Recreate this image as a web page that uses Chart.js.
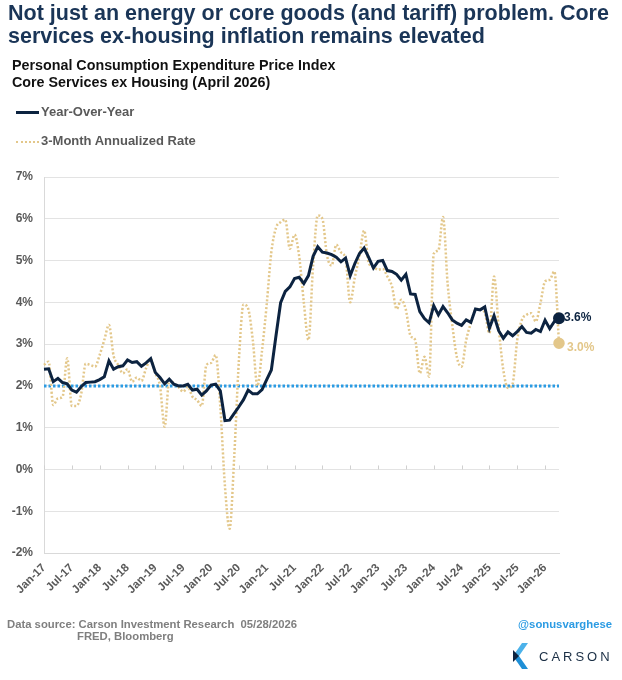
<!DOCTYPE html>
<html>
<head>
<meta charset="utf-8">
<script src="https://cdn.jsdelivr.net/npm/chart.js@4.4.1/dist/chart.umd.min.js"></script>
<style>
  body { margin: 0; background: #fff; font-family: "Liberation Sans", Arial, sans-serif; }
  #wrap { position: relative; width: 622px; height: 680px; overflow: hidden; }
  #chart { position: absolute; left: 0; top: 0; }
  .title { position: absolute; left: 8px; top: 2px; font-size: 21.5px; font-weight: bold; color: #1a3557; line-height: 22.5px; white-space: nowrap; }
  .sub { position: absolute; left: 12px; top: 57px; font-size: 14.3px; font-weight: bold; color: #111; line-height: 17px; }
  .leg { position: absolute; left: 16px; font-size: 13px; font-weight: bold; color: #595959; height: 16px; line-height: 16px; }
  .leg span.sw { display: inline-block; width: 23px; height: 0; vertical-align: middle; margin-right: 2px; }
  .foot { position: absolute; font-size: 11.3px; font-weight: bold; color: #7f7f7f; line-height: 13px; }
  .handle { position: absolute; right: 10px; top: 618px; font-size: 11.3px; font-weight: bold; color: #2b9be3; }
  .brand { position: absolute; left: 539px; top: 649px; font-size: 13px; color: #1a2e44; letter-spacing: 3px; }
</style>
</head>
<body>
<div id="wrap">
  <canvas id="chart" width="622" height="680"></canvas>
  <div class="title">Not just an energy or core goods (and tariff) problem. Core<br>services ex-housing inflation remains elevated</div>
  <div class="sub">Personal Consumption Expenditure Price Index<br>Core Services ex Housing (April 2026)</div>
  <div class="leg" style="top:104px"><span class="sw" style="border-top:3px solid #0c2340"></span>Year-Over-Year</div>
  <div class="leg" style="top:133px"><span class="sw" style="border-top:2px dotted #e3c78a"></span>3-Month Annualized Rate</div>
  <div class="foot" style="left:7px; top:618px">Data source: Carson Investment Research&nbsp; 05/28/2026</div>
  <div class="foot" style="left:77px; top:630px">FRED, Bloomberg</div>
  <div class="handle">@sonusvarghese</div>
  <svg style="position:absolute; left:510px; top:640px" width="22" height="32">
    <polygon points="12,3 18,3 9,16 3,16" fill="#4cb2ea"/>
    <polygon points="3,16 9,16 18,29 12,29" fill="#1f8fd6"/>
    <polygon points="3,10 9,16 3,22" fill="#0c2340"/>
  </svg>
  <div class="brand">CARSON</div>
</div>
<script>
// months Jan-17 .. Apr-26
const years = [17, 18, 19, 20, 21, 22, 23, 24, 25, 26];
const monthNames = ['Jan', 'Feb', 'Mar', 'Apr', 'May', 'Jun', 'Jul', 'Aug', 'Sep', 'Oct', 'Nov', 'Dec'];
const lastMonth = 4; // April 2026

const categories = [];
years.forEach(y => {
    monthNames.forEach((m, k) => {
        if (y === 26 && k >= lastMonth) return;
        categories.push(m + '-' + y);
    });
});

// tick labels shown on the x axis (every six months)
const tickLabels = ['Jan-17', 'Jul-17', 'Jan-18', 'Jul-18', 'Jan-19', 'Jul-19', 'Jan-20', 'Jul-20', 'Jan-21',
    'Jul-21', 'Jan-22', 'Jul-22', 'Jan-23', 'Jul-23', 'Jan-24', 'Jul-24', 'Jan-25', 'Jul-25', 'Jan-26'];

// Year-over-year, %
const yoy = [
    2.40, 2.41, 2.10, 2.18, 2.08, 2.05, 1.90, 1.85, 1.98, 2.08, 2.09, 2.10,
    2.15, 2.22, 2.60, 2.40, 2.46, 2.48, 2.62, 2.56, 2.58, 2.47, 2.55, 2.65,
    2.32, 2.20, 2.05, 2.16, 2.04, 2.00, 2.00, 2.04, 1.90, 1.92, 1.78, 1.88,
    2.02, 2.04, 1.88, 1.17, 1.18, 1.34, 1.50, 1.67, 1.90, 1.81, 1.81, 1.91,
    2.15, 2.38, 3.20, 3.99, 4.26, 4.37, 4.57, 4.60, 4.45, 4.64, 5.10, 5.33,
    5.20, 5.18, 5.14, 5.08, 4.97, 5.06, 4.64, 4.93, 5.17, 5.30, 5.07, 4.82,
    4.98, 5.00, 4.76, 4.74, 4.67, 4.53, 4.67, 4.20, 4.19, 3.78, 3.61, 3.51,
    3.92, 3.70, 3.90, 3.75, 3.58, 3.50, 3.45, 3.58, 3.52, 3.84, 3.82, 3.89,
    3.38, 3.68, 3.32, 3.14, 3.29, 3.20, 3.30, 3.42, 3.28, 3.26, 3.35, 3.30,
    3.57, 3.37, 3.54, 3.62
];

// 3-month annualized rate, %
const threeMonth = [
    2.50, 2.58, 1.54, 1.70, 1.74, 2.66, 1.52, 1.52, 1.80, 2.53, 2.50, 2.46,
    2.74, 3.10, 3.46, 2.72, 2.50, 2.30, 2.40, 2.10, 2.20, 2.12, 2.42, 2.64,
    2.30, 2.00, 1.02, 2.14, 2.06, 1.97, 1.86, 1.98, 1.74, 1.66, 1.52, 2.50,
    2.55, 2.74, 1.50, -0.40, -1.42, 0.30, 2.60, 3.95, 3.85, 3.10, 2.00, 2.85,
    3.95, 5.20, 5.78, 5.92, 5.98, 5.28, 5.62, 5.10, 4.00, 3.10, 4.88, 6.08,
    6.00, 5.12, 4.88, 5.38, 5.20, 5.04, 4.00, 4.60, 5.12, 5.72, 4.94, 4.85,
    4.78, 4.80, 4.62, 4.38, 3.84, 4.06, 3.82, 3.20, 3.10, 2.30, 2.70, 2.22,
    5.16, 5.24, 6.04, 4.44, 3.46, 2.68, 2.46, 3.10, 3.50, 3.82, 3.84, 3.75,
    3.26, 4.62, 3.40, 2.38, 1.95, 2.05, 3.10, 3.58, 3.70, 3.74, 3.54, 3.98,
    4.50, 4.54, 4.74, 3.02
];

// Fed 2% target
const target = 2;

// y axis range, %
const yMin = -2;
const yMax = 7;

const navy = '#0c2340';
const gold = '#e3c78a';
const blue = '#2b9be3';
const grey = '#595959';
const lastIdx = categories.length - 1;

// little tick marks sitting on the 0% line + value labels at the right end
const extras = {
    id: 'extras',
    beforeDatasetsDraw(chart) {
        const c = chart.ctx, x = chart.scales.x, y = chart.scales.y;
        const y0 = y.getPixelForValue(0);
        c.save();
        c.strokeStyle = '#d0d0d0';
        c.lineWidth = 1;
        categories.forEach((lab, i) => {
            if (tickLabels.indexOf(lab) < 0) return;
            const px = Math.round(x.getPixelForValue(i)) + 0.5;
            c.beginPath();
            c.moveTo(px, y0 - 4);
            c.lineTo(px, y0);
            c.stroke();
        });
        c.restore();
    },
    afterDatasetsDraw(chart) {
        const c = chart.ctx;
        c.save();
        c.font = 'bold 12px "Liberation Sans", Arial, sans-serif';
        c.textBaseline = 'middle';
        const p0 = chart.getDatasetMeta(0).data[lastIdx];
        c.fillStyle = navy;
        c.fillText(yoy[lastIdx].toFixed(1) + '%', p0.x + 5, p0.y - 1);
        const p1 = chart.getDatasetMeta(1).data[lastIdx];
        c.fillStyle = gold;
        c.fillText(threeMonth[lastIdx].toFixed(1) + '%', p1.x + 8, p1.y + 4);
        c.restore();
    }
};

new Chart(document.getElementById('chart').getContext('2d'), {
    type: 'line',
    data: {
        labels: categories,
        datasets: [{
            label: 'Year-Over-Year',
            data: yoy,
            borderColor: navy,
            backgroundColor: navy,
            borderWidth: 3,
            tension: 0,
            pointRadius: ctx => ctx.dataIndex === lastIdx ? 4.5 : 0,
            order: 0
        }, {
            label: '3-Month Annualized Rate',
            data: threeMonth,
            borderColor: gold,
            backgroundColor: gold,
            borderWidth: 2.5,
            borderDash: [2, 2],
            cubicInterpolationMode: 'monotone',
            pointRadius: ctx => ctx.dataIndex === lastIdx ? 4.5 : 0,
            order: 1
        }, {
            label: 'Target',
            data: categories.map(() => target),
            borderColor: blue,
            borderWidth: 3,
            borderDash: [2.5, 2],
            pointRadius: 0,
            order: 2
        }]
    },
    options: {
        responsive: false,
        animation: false,
        layout: { padding: { top: 177, right: 63, left: 0, bottom: 0 } },
        plugins: { legend: { display: false }, tooltip: { enabled: false } },
        scales: {
            x: {
                offset: false,
                afterFit: s => { s.height = 127; },
                grid: { display: false, drawTicks: false },
                border: { color: '#d9d9d9' },
                ticks: {
                    autoSkip: false,
                    minRotation: 45,
                    maxRotation: 45,
                    padding: 8,
                    color: grey,
                    font: { family: '"Liberation Sans", Arial, sans-serif', size: 11.5, weight: 'bold' },
                    callback: function (v, i) {
                        const lab = categories[i];
                        return tickLabels.indexOf(lab) >= 0 ? lab : '';
                    }
                }
            },
            y: {
                min: yMin,
                max: yMax,
                afterFit: s => { s.width = 44; },
                grid: { color: '#e3e3e3', drawTicks: false },
                border: { color: '#d9d9d9' },
                ticks: {
                    stepSize: 1,
                    padding: 11,
                    color: grey,
                    font: { family: '"Liberation Sans", Arial, sans-serif', size: 12, weight: 'bold' },
                    callback: v => v + '%'
                }
            }
        }
    },
    plugins: [extras]
});
</script>
</body>
</html>
